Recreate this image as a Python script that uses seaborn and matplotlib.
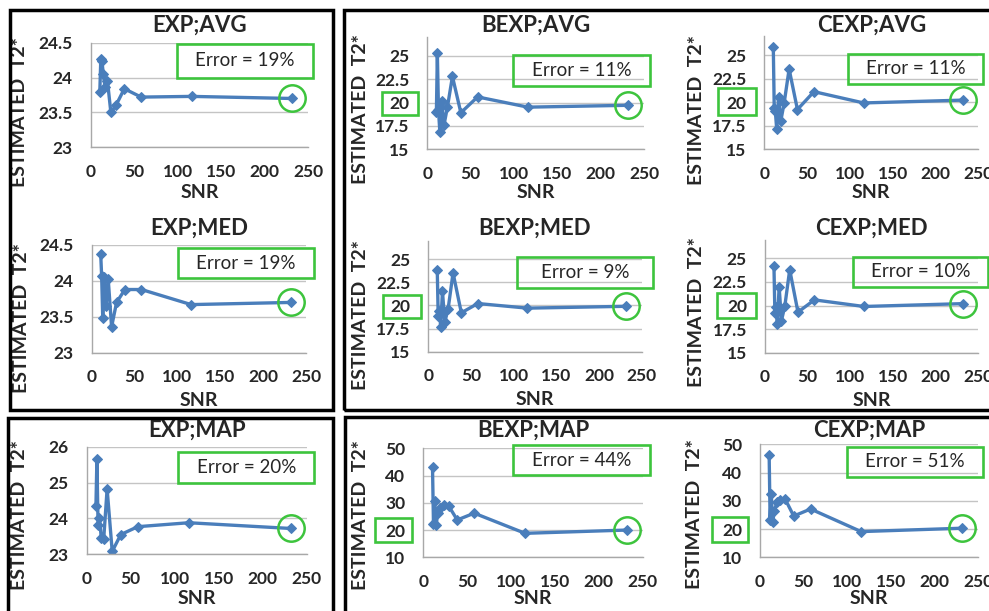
import matplotlib
matplotlib.use('Agg')
import pandas as pd
import matplotlib.pyplot as plt
from matplotlib.patches import Rectangle
import seaborn as sns

# SNR levels shared by every panel
snr = [10.5, 11.6, 12.9, 14.5, 16.6, 19.3, 23.2, 29.0, 38.7, 58.0, 116.0, 232.0]

# estimated T2*
exp_avg = [23.80, 24.26, 24.24, 24.05, 23.86, 23.95, 23.50, 23.60, 23.84, 23.72, 23.73, 23.70]
exp_med = [24.37, 24.07, 23.48, 24.05, 23.65, 24.02, 23.36, 23.70, 23.88, 23.88, 23.67, 23.70]
exp_map = [24.35, 25.65, 23.82, 24.00, 23.45, 23.42, 24.82, 23.08, 23.55, 23.77, 23.88, 23.72]
bexp_avg = [19.0, 25.3, 19.2, 16.8, 20.2, 17.6, 19.5, 22.8, 18.9, 20.6, 19.5, 19.7]
bexp_med = [23.8, 18.8, 19.4, 17.7, 21.5, 18.2, 19.6, 23.5, 19.2, 20.2, 19.7, 19.9]
bexp_map = [43.0, 22.3, 30.8, 21.8, 26.1, 28.0, 29.2, 28.8, 23.7, 26.2, 18.8, 20.0]
cexp_avg = [25.9, 19.4, 19.0, 17.1, 20.5, 18.0, 19.9, 23.5, 19.2, 21.1, 19.9, 20.2]
cexp_med = [24.2, 19.2, 19.8, 18.0, 22.0, 18.4, 19.9, 23.8, 19.3, 20.6, 19.9, 20.2]
cexp_map = [46.2, 23.2, 32.3, 22.6, 26.5, 29.5, 30.3, 30.5, 24.6, 27.1, 19.1, 20.3]

titles = ['EXP;AVG', 'BEXP;AVG', 'CEXP;AVG',
          'EXP;MED', 'BEXP;MED', 'CEXP;MED',
          'EXP;MAP', 'BEXP;MAP', 'CEXP;MAP']
errors = ['19%', '11%', '11%', '19%', '9%', '10%', '20%', '44%', '51%']
series = [exp_avg, bexp_avg, cexp_avg, exp_med, bexp_med, cexp_med,
          exp_map, bexp_map, cexp_map]
y_ticks = [[23, 23.5, 24, 24.5], [15, 17.5, 20, 22.5, 25], [15, 17.5, 20, 22.5, 25],
           [23, 23.5, 24, 24.5], [15, 17.5, 20, 22.5, 25], [15, 17.5, 20, 22.5, 25],
           [23, 24, 25, 26], [10, 20, 30, 40, 50], [10, 20, 30, 40, 50]]
y_lims = [(23, 24.5), (15, 27), (15, 27), (23, 24.5), (15, 27), (15, 27),
          (23, 26), (10, 50), (10, 50)]
x_ticks = [0, 50, 100, 150, 200, 250]

W, H = 989, 611
BLUE = '#4a7ebb'
GREEN = '#3dc43d'

# layout in pixels: x of 0, x of 250, y top, y bottom of the plot area
rects = [(90.7, 308, 42.7, 147.3), (427.3, 644, 37.4, 149), (764.3, 978.3, 36.2, 149),
         (91.7, 306, 245, 352.7), (428.3, 641.7, 240.5, 351.7), (765, 978, 239.5, 352.7),
         (86.7, 306.7, 446.7, 554.3), (423.3, 642.7, 448.3, 557.3), (760, 978, 444.3, 557.3)]
title_base = [32, 32, 32, 235, 235, 235, 437, 437, 437]
ylab_pos = [(20, 112), (360, 109), (697, 110), (22, 318), (360, 315), (697, 312),
            (20, 515), (360, 515), (695, 514)]
xlab_y = [192, 192, 192, 400, 400, 400, 598, 598, 598]
err_box = [(177, 44, 313, 78), (512.7, 55, 650, 86), (848.3, 54, 983.3, 84),
           (177.7, 248.3, 314, 278.3), (516.7, 257.3, 653.3, 287.7), (852.7, 256.7, 988.3, 286.7),
           (178.3, 451.7, 314.3, 482.7), (512.7, 445, 650, 475), (847.3, 446.7, 983.3, 476.7)]
twenty_box = [None, (381.7, 91.7, 418.3, 115), (717.7, 88.3, 755.7, 115),
              None, (383.3, 295, 421, 317.7), (717.3, 292.7, 755.7, 317.7),
              None, (375, 517.7, 411.7, 542.3), (711.7, 516.7, 748.3, 542.3)]
group_boxes = [(10, 10, 333, 410), (8, 418, 333, 640), (344, 10, 1010, 410), (345, 417, 1010, 640)]

sns.set_style('white')
plt.rcParams['font.family'] = ['Lato', 'DejaVu Sans']

fig = plt.figure(figsize=(W / 100, H / 100), dpi=100)


def box(x0, y0, x1, y1, color, lw):
    fig.add_artist(Rectangle((x0 / W, 1 - y1 / H), (x1 - x0) / W, (y1 - y0) / H,
                             transform=fig.transFigure, fill=False, ec=color, lw=lw,
                             clip_on=False))


for i in range(9):
    x0, x1, yt, yb = rects[i]
    ax = fig.add_axes([x0 / W, 1 - yb / H, (x1 - x0) / W, (yb - yt) / H])
    df = pd.DataFrame({'SNR': snr, 'T2': series[i]})
    sns.lineplot(data=df, x='SNR', y='T2', ax=ax, color=BLUE, lw=2.4, marker='D',
                 markersize=5.5, markeredgecolor=BLUE, sort=False)
    ax.plot(snr[-1], series[i][-1], 'o', ms=19, mfc='none', mec=GREEN, mew=1.8,
            clip_on=False)
    ax.set_xlim(0, 250)
    ax.set_ylim(*y_lims[i])
    ax.set_xticks(x_ticks)
    ax.set_yticks(y_ticks[i])
    ax.set_yticklabels([f'{t:g}' for t in y_ticks[i]])
    ax.grid(axis='y', color='#c4c4c4', lw=1)
    ax.grid(axis='x', visible=False)
    for s in ['top', 'right']:
        ax.spines[s].set_visible(False)
    for s in ['left', 'bottom']:
        ax.spines[s].set_color('#a8a8a8')
        ax.spines[s].set_linewidth(1)
    ax.tick_params(axis='x', length=4, color='#a8a8a8', pad=8, labelsize=12.5)
    ax.tick_params(axis='y', length=0, pad=13, labelsize=12.5)
    for lab in ax.get_xticklabels() + ax.get_yticklabels():
        lab.set_fontweight('bold')

    h = yb - yt
    w = x1 - x0
    ax.text(0.5, (yb - title_base[i]) / h, titles[i], transform=ax.transAxes,
            ha='center', va='baseline', fontsize=16, fontweight='bold')
    ax.set_ylabel('ESTIMATED  T2*', fontsize=14, fontweight='bold')
    ax.yaxis.set_label_coords((ylab_pos[i][0] - x0) / w, (yb - ylab_pos[i][1]) / h)
    ax.yaxis.label.set_va('center')
    ax.set_xlabel('SNR', fontsize=14, fontweight='bold')
    ax.xaxis.set_label_coords(0.5, (yb - xlab_y[i]) / h)
    ax.xaxis.label.set_va('center')

    bx0, by0, bx1, by1 = err_box[i]
    box(bx0, by0, bx1, by1, GREEN, 1.9)
    fig.text((bx0 + bx1) / 2 / W, 1 - (by0 + by1) / 2 / H, 'Error = ' + errors[i],
             ha='center', va='center', fontsize=13.5)
    if twenty_box[i] is not None:
        box(*twenty_box[i], GREEN, 1.9)

for gb in group_boxes:
    box(*gb, 'black', 2.5)

fig.savefig('out.png', dpi=100)
